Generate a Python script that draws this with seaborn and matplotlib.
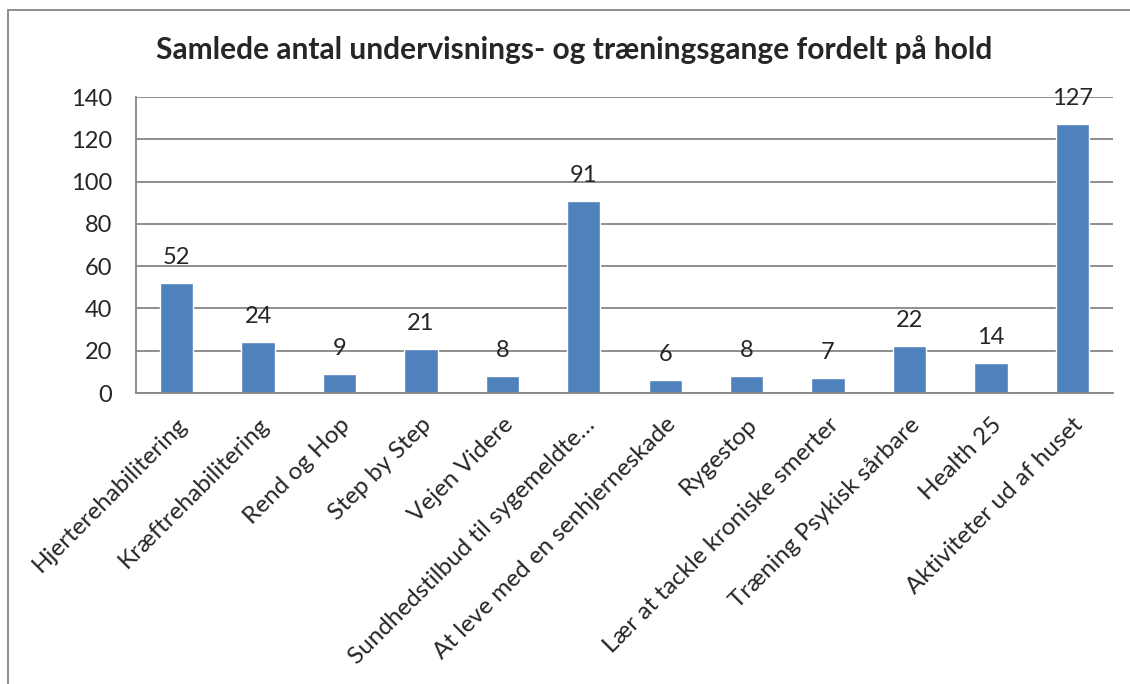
import matplotlib
matplotlib.use('Agg')
import matplotlib.pyplot as plt
import seaborn as sns
import pandas as pd
from matplotlib.patches import Rectangle

hold = ['Hjerterehabilitering', 'Kræftrehabilitering', 'Rend og Hop', 'Step by Step',
        'Vejen Videre', 'Sundhedstilbud til sygemeldte…', 'At leve med en senhjerneskade',
        'Rygestop', 'Lær at tackle kroniske smerter', 'Træning Psykisk sårbare',
        'Health 25', 'Aktiviteter ud af huset']
antal = [52, 24, 9, 21, 8, 91, 6, 8, 7, 22, 14, 127]
yticks = [0, 20, 40, 60, 80, 100, 120, 140]

df = pd.DataFrame({'hold': hold, 'antal': antal})

sns.set_style('white')
plt.rcParams['font.family'] = ['Lato', 'DejaVu Sans']

W, H = 1130, 684
fig = plt.figure(figsize=(W / 100, H / 100), dpi=100)
ax = fig.add_axes([136 / W, 1 - 393 / H, (1113 - 136) / W, (393 - 97) / H])

sns.barplot(data=df, x='hold', y='antal', color='#4F81BD', saturation=1,
            width=0.41, ax=ax)

grey = '#868686'
ax.set_ylim(0, 140)
ax.set_xlim(-0.5, len(hold) - 0.5)
ax.set_yticks(yticks)
ax.yaxis.grid(True, color=grey, linewidth=1.3)
ax.set_axisbelow(True)
for s in ['top', 'right']:
    ax.spines[s].set_visible(False)
for s in ['left', 'bottom']:
    ax.spines[s].set_color(grey)
    ax.spines[s].set_linewidth(1.3)

# tick marks between categories, like Excel
ax.set_xticks([i + 0.5 for i in range(-1, len(hold))], minor=True)
ax.tick_params(axis='x', which='minor', length=8, width=1.3, color=grey, direction='out')
ax.tick_params(axis='x', which='major', length=0, pad=15)
ax.tick_params(axis='y', length=8, width=1.3, color=grey, direction='out', labelsize=17, pad=9)
ax.set_xticks(range(len(hold)))
ax.set_xticklabels(hold, rotation=45, ha='right', rotation_mode='anchor', fontsize=17.5)
ax.set_xlabel('')
ax.set_ylabel('')

for i, v in enumerate(antal):
    ax.text(i, v + 9, str(v), ha='center', va='baseline', fontsize=17)

fig.text(574 / W, 1 - 50 / H, 'Samlede antal undervisnings- og træningsgange fordelt på hold',
         ha='center', va='center', fontsize=21.5, fontweight='bold')

# chart frame
fig.patches.append(Rectangle((8 / W, -0.05), 1.2, 1 - 10 / H + 0.05,
                             transform=fig.transFigure, fill=False,
                             edgecolor=grey, linewidth=1.3))

fig.savefig('out.png', dpi=100)
